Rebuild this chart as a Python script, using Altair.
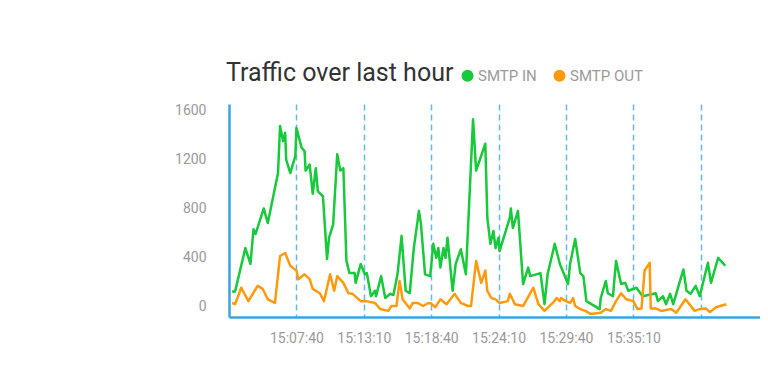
import json
import altair as alt
import pandas as pd

title_text = "Traffic over last hour"
series_names = ["SMTP IN", "SMTP OUT"]
series_colors = ["#17c93b", "#ff9a0d"]

day = "2024-01-01"
start_time = "15:02:10"
end_time = "15:45:30"

# seconds after 15:02:10
in_offsets = [15, 30, 80, 105, 120, 130, 170, 190, 240, 250, 265, 275, 280, 300, 325, 330,
              355, 370, 375, 395, 410, 425, 435, 460, 480, 490, 510, 530, 545, 560, 575, 590,
              615, 620, 645, 665, 675, 695, 715, 720, 745, 765, 790, 805, 825, 845, 865, 885,
              905, 930, 940, 960, 985, 990, 1000, 1015, 1025, 1035, 1050, 1060, 1070, 1095,
              1110, 1135, 1160, 1195, 1210, 1255, 1265, 1280, 1295, 1305, 1320, 1325, 1375,
              1380, 1390, 1415, 1440, 1465, 1475, 1525, 1545, 1560, 1595, 1620, 1660, 1670,
              1695, 1720, 1735, 1750, 1815, 1820, 1845, 1855, 1880, 1895, 1920, 1940, 1955,
              1995, 2025, 2090, 2100, 2125, 2140, 2160, 2175, 2225, 2240, 2260, 2285, 2305,
              2345, 2360, 2395, 2430]
in_values = [120, 120, 475, 345, 630, 590, 800, 680, 1090, 1475, 1350, 1420, 1200, 1090, 1230, 1460,
             1300, 1270, 1110, 1160, 920, 1130, 940, 900, 385, 560, 670, 1245, 1110, 1130, 370, 270,
             270, 190, 345, 260, 270, 80, 125, 80, 245, 65, 100, 90, 260, 575, 125, 105,
             475, 780, 670, 260, 245, 330, 510, 395, 475, 315, 475, 395, 560, 125,
             345, 465, 260, 1530, 1110, 1330, 720, 510, 615, 475, 560, 450, 725,
             800, 640, 780, 180, 315, 245, 270, 15, 260, 510, 345, 180, 345,
             550, 270, 245, 40, -25, 65, 205, 105, 80, 370, 180, 190, 125,
             150, 80, 105, 40, 80, 15, 100, 15, 300, 125, 100, 165, 80,
             355, 190, 395, 330]

out_offsets = [15, 30, 60, 95, 140, 165, 190, 225, 250, 275, 300, 330, 340, 370, 395, 410,
               445, 465, 495, 515, 530, 560, 585, 605, 645, 670, 715, 740, 780, 795, 820, 835,
               850, 885, 900, 925, 950, 975, 990, 1010, 1035, 1065, 1105, 1135, 1170, 1185,
               1210, 1235, 1255, 1265, 1285, 1305, 1325, 1365, 1375, 1400, 1440, 1490, 1515,
               1545, 1585, 1605, 1620, 1625, 1650, 1670, 1685, 1695, 1720, 1745, 1770, 1820,
               1845, 1870, 1895, 1920, 1945, 1980, 2000, 2020, 2035, 2060, 2065, 2090, 2115,
               2165, 2190, 2235, 2280, 2305, 2335, 2355, 2385, 2435]
out_values = [25, 15, 150, 40, 165, 140, 55, 25, 410, 435, 330, 290, 220, 260, 220, 140,
              105, 40, 260, 125, 245, 190, 105, 100, 40, 40, 25, -25, -40, 0, 0, 205,
              55, -20, 25, 25, 0, 25, 20, -10, 55, 15, 100, 25, 0, 0,
              370, 190, 290, 125, 65, 55, 25, 40, 100, 15, 0, 150, 15,
              -40, 25, 65, 40, 65, 40, 25, 65, 0, -25, -40, -65, -55,
              -25, -40, 40, 105, 55, 40, -25, -20, 290, 355, -20, -20, -40,
              -25, -55, 55, -40, -25, -20, -50, -10, 15]

y_ticks = [0, 400, 800, 1200, 1600]
y_domain = [-90, 1656]
tick_labels = ["15:07:40", "15:13:10", "15:18:40", "15:24:10", "15:29:40", "15:35:10"]
grid_times = tick_labels + ["15:40:40"]


def dt(hms):
    h, m, s = (int(p) for p in hms.split(":"))
    return alt.DateTime(year=2024, month=1, date=1, hours=h, minutes=m, seconds=s)


t0 = pd.Timestamp(f"{day} {start_time}")
frames = []
for name, offs, vals in [(series_names[0], in_offsets, in_values),
                         (series_names[1], out_offsets, out_values)]:
    frames.append(pd.DataFrame({
        "time": t0 + pd.to_timedelta(offs, unit="s"),
        "value": vals,
        "series": name,
        "order": range(len(vals)),
    }))
df = pd.concat(frames, ignore_index=True)

axis_blue = "#3ba4df"
grid_blue = "#68b7e6"
label_grey = "#9a9a9a"

label_expr = f"indexof({json.dumps(tick_labels)}, datum.label) >= 0 ? datum.label : ''"

chart = alt.Chart(df).mark_line(strokeWidth=2.5, strokeJoin="round").encode(
    x=alt.X("time:T",
            scale=alt.Scale(domain=[dt(start_time), dt(end_time)], nice=False),
            axis=alt.Axis(values=[dt(g) for g in grid_times], format="%H:%M:%S",
                          labelExpr=label_expr, grid=True, gridDash=[6, 4],
                          gridColor=grid_blue, gridWidth=1.5, ticks=False,
                          domainColor=axis_blue, domainWidth=2.5,
                          labelColor=label_grey, labelFontSize=14, labelFont="Roboto",
                          labelPadding=14, labelOverlap=False, labelFlush=False,
                          title=None)),
    y=alt.Y("value:Q",
            scale=alt.Scale(domain=y_domain, nice=False, zero=False),
            axis=alt.Axis(values=y_ticks, format="d", grid=False, ticks=False,
                          domainColor=axis_blue, domainWidth=2.5,
                          labelColor=label_grey, labelFontSize=14, labelFont="Roboto",
                          labelPadding=23, title=None)),
    color=alt.Color("series:N",
                    scale=alt.Scale(domain=series_names, range=series_colors),
                    legend=alt.Legend(orient="none", legendX=231, legendY=-36,
                                      direction="horizontal", title=None,
                                      symbolType="circle", symbolSize=36,
                                      symbolStrokeWidth=6, labelFontSize=15,
                                      labelColor=label_grey, labelFont="Roboto",
                                      columnPadding=7, labelOffset=3, padding=0)),
    order="order:Q",
).properties(
    width=531,
    height=213,
    title=alt.TitleParams(title_text, anchor="start", frame="group", fontSize=25,
                          font="Roboto", fontWeight="normal", color="#333333",
                          offset=22, baseline="alphabetic", dx=-3, dy=60),
    padding={"left": 166, "top": 53, "right": 0, "bottom": 5},
).configure_view(stroke=None)

chart.save("out.html", embed_options={"renderer": "svg", "actions": False})
